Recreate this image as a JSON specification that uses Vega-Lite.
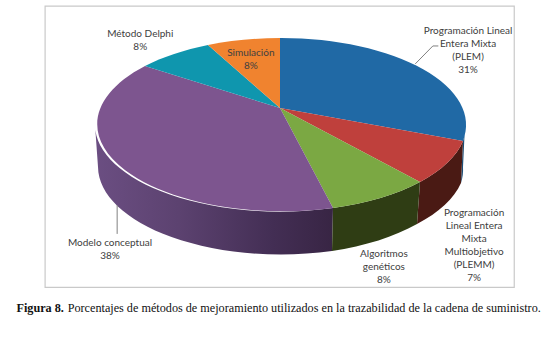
{
"$schema":"https://vega.github.io/schema/vega-lite/v6.json",
"width":550,"height":338,"padding":0,"autosize":{"type":"none"},"background":"white",
"config":{"view":{"stroke":null},"text":{"font":"Lato","fontSize":10,"fill":"#404040","lineBreak":"\n","lineHeight":13}},
"datasets":{"pie":[
{"metodo":"Programación Lineal Entera Mixta (PLEM)","pct":31,"etiqueta":"Programación Lineal\nEntera Mixta\n(PLEM)\n31%"},
{"metodo":"Programación Lineal Entera Mixta Multiobjetivo (PLEMM)","pct":7,"etiqueta":"Programación\nLineal Entera\nMixta\nMultiobjetivo\n(PLEMM)\n7%"},
{"metodo":"Algoritmos genéticos","pct":8,"etiqueta":"Algoritmos\ngenéticos\n8%"},
{"metodo":"Modelo conceptual","pct":38,"etiqueta":"Modelo conceptual\n38%"},
{"metodo":"Método Delphi","pct":8,"etiqueta":"Método Delphi\n8%"},
{"metodo":"Simulación","pct":8,"etiqueta":"Simulación\n8%"}
]},
"data":{"name":"pie"},
"layer":[
{"data":{"values":[{"marco":"figura"}]},"mark":{"type":"rect","fill":"white","stroke":"#c9c9c9","strokeWidth":1.2},
 "encoding":{"x":{"datum":8.2,"type":"quantitative","scale":{"domain":[0,100]},"axis":null},"x2":{"datum":93.5},"y":{"datum":1.8,"type":"quantitative","scale":{"domain":[100,0]},"axis":null},"y2":{"datum":85}}},
{"transform":[{"filter":"datum.metodo==='Modelo conceptual'"}],
 "mark":{"type":"point","filled":true,"opacity":1,"size":4,"fill":{"gradient":"linear","x1":0,"y1":0,"x2":1,"y2":0,"stops":[{"offset":0,"color":"#6b4e82"},{"offset":0.35,"color":"#5c4270"},{"offset":0.75,"color":"#432e54"},{"offset":1,"color":"#382544"}]}},
 "encoding":{"x":{"datum":50,"type":"quantitative"},"y":{"datum":50,"type":"quantitative"},
  "shape":{"field":"metodo","type":"nominal","legend":null,"scale":{"domain":["Modelo conceptual"],"range":["M58,39 A185,87 0 0 1 -180,-44 L-177,-2 A183,88 0 0 0 57,82 Z"]}}}},
{"transform":[{"filter":"datum.metodo!=='Modelo conceptual'&&datum.metodo!=='Método Delphi'&&datum.metodo!=='Simulación'"}],
 "mark":{"type":"point","filled":true,"opacity":1,"size":4},
 "encoding":{"x":{"datum":50,"type":"quantitative"},"y":{"datum":50,"type":"quantitative"},
  "color":{"field":"metodo","type":"nominal","legend":null,"scale":{"domain":["Programación Lineal Entera Mixta (PLEM)","Programación Lineal Entera Mixta Multiobjetivo (PLEMM)","Algoritmos genéticos"],"range":["#1d4f78","#4a1a14","#2f3d14"]}},
  "shape":{"field":"metodo","type":"nominal","legend":null,"scale":{"domain":["Programación Lineal Entera Mixta (PLEM)","Programación Lineal Entera Mixta Multiobjetivo (PLEMM)","Algoritmos genéticos"],"range":["M190,-44 A185,87 0 0 1 188,-28 L186,14 A183,88 0 0 0 188,-2 Z","M188,-28 A185,87 0 0 1 145,13 L142,55 A183,88 0 0 0 186,14 Z","M145,13 A185,87 0 0 1 58,39 L57,82 A183,88 0 0 0 142,55 Z"]}}}},
{"mark":{"type":"point","filled":true,"opacity":1,"size":4},
 "encoding":{"x":{"datum":50,"type":"quantitative"},"y":{"datum":50,"type":"quantitative"},
  "color":{"field":"metodo","type":"nominal","legend":null,"scale":{"domain":["Programación Lineal Entera Mixta (PLEM)","Programación Lineal Entera Mixta Multiobjetivo (PLEMM)","Algoritmos genéticos","Modelo conceptual","Método Delphi","Simulación"],"range":["#2069a5","#bf403c","#7ba843","#7d558f","#0f96ae","#f0832f"]}},
  "shape":{"field":"metodo","type":"nominal","legend":null,"scale":{"domain":["Programación Lineal Entera Mixta (PLEM)","Programación Lineal Entera Mixta Multiobjetivo (PLEMM)","Algoritmos genéticos","Modelo conceptual","Método Delphi","Simulación"],"range":["M5,-61 L5,-131 A185,87 0 0 1 188,-28 Z","M5,-61 L188,-28 A185,87 0 0 1 145,13 Z","M5,-61 L145,13 A185,87 0 0 1 58,39 Z","M5,-61 L58,39 A185,87 0 0 1 -130,-103 Z","M5,-61 L-130,-103 A185,87 0 0 1 -67,-124 Z","M5,-61 L-67,-124 A185,87 0 0 1 5,-131 Z"]}}}},
{"data":{"values":[{"guia":"Modelo conceptual"}]},"mark":{"type":"rule","stroke":"#808080","strokeWidth":1},"encoding":{"x":{"datum":21.3,"type":"quantitative"},"x2":{"datum":21.3},"y":{"datum":60.7,"type":"quantitative"},"y2":{"datum":69.2}}},
{"data":{"values":[{"guia":"PLEM"}]},"mark":{"type":"rule","stroke":"#808080","strokeWidth":1},"encoding":{"x":{"datum":75.5,"type":"quantitative"},"x2":{"datum":78.7},"y":{"datum":18.9,"type":"quantitative"},"y2":{"datum":13.6}}},
{"data":{"values":[{"guia":"PLEM"}]},"mark":{"type":"rule","stroke":"#808080","strokeWidth":1},"encoding":{"x":{"datum":78.7,"type":"quantitative"},"x2":{"datum":79.7},"y":{"datum":13.6,"type":"quantitative"},"y2":{"datum":13.6}}},
{"transform":[{"filter":"datum.pct===31"}],"mark":{"type":"text"},"encoding":{"x":{"datum":85.1,"type":"quantitative"},"y":{"datum":9.2,"type":"quantitative"},"text":{"field":"etiqueta"}}},
{"transform":[{"filter":"datum.pct===7"}],"mark":{"type":"text"},"encoding":{"x":{"datum":86.2,"type":"quantitative"},"y":{"datum":63,"type":"quantitative"},"text":{"field":"etiqueta"}}},
{"transform":[{"filter":"datum.metodo==='Algoritmos genéticos'"}],"mark":{"type":"text"},"encoding":{"x":{"datum":69.8,"type":"quantitative"},"y":{"datum":75.1,"type":"quantitative"},"text":{"field":"etiqueta"}}},
{"transform":[{"filter":"datum.pct===38"}],"mark":{"type":"text"},"encoding":{"x":{"datum":20,"type":"quantitative"},"y":{"datum":71.9,"type":"quantitative"},"text":{"field":"etiqueta"}}},
{"transform":[{"filter":"datum.metodo==='Método Delphi'"}],"mark":{"type":"text"},"encoding":{"x":{"datum":25.5,"type":"quantitative"},"y":{"datum":10.1,"type":"quantitative"},"text":{"field":"etiqueta"}}},
{"transform":[{"filter":"datum.metodo==='Simulación'"}],"mark":{"type":"text"},"encoding":{"x":{"datum":45.6,"type":"quantitative"},"y":{"datum":15.7,"type":"quantitative"},"text":{"field":"etiqueta"}}},
{"data":{"values":[{"texto":"Figura 8."}]},"mark":{"type":"text","font":"Liberation Serif","fontWeight":"bold","fontSize":12.2,"fill":"#111111","align":"left"},"encoding":{"x":{"datum":3,"type":"quantitative"},"y":{"datum":91.2,"type":"quantitative"},"text":{"field":"texto"}}},
{"data":{"values":[{"texto":"Porcentajes de métodos de mejoramiento utilizados en la trazabilidad de la cadena de suministro."}]},"mark":{"type":"text","font":"Liberation Serif","fontSize":12.2,"fill":"#111111","align":"left"},"encoding":{"x":{"datum":12.3,"type":"quantitative"},"y":{"datum":91.2,"type":"quantitative"},"text":{"field":"texto"}}}
],
"resolve":{"scale":{"shape":"independent","color":"independent"}}
}
